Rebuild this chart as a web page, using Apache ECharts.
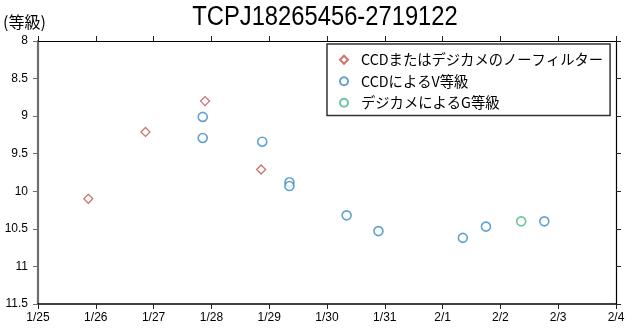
<!DOCTYPE html>
<html>
<head>
<meta charset="utf-8">
<script src="https://cdn.jsdelivr.net/npm/echarts@6/dist/echarts.min.js"></script>
<style>html,body{margin:0;padding:0;background:#fff}#c{width:640px;height:330px}</style>
</head>
<body>
<div id="c"></div>
<script>
// ---- data ----
const titleText = 'TCPJ18265456-2719122';
const yAxisName = '(等級)';
const xTickLabels = ['1/25','1/26','1/27','1/28','1/29','1/30','1/31','2/1','2/2','2/3','2/4'];
const seriesNames = ['CCDまたはデジカメのノーフィルター', 'CCDによるV等級', 'デジカメによるG等級'];
// x values: day number counted from Jan 0 (Feb 1 = 32)
const redX = [25.87, 26.86, 27.89, 28.86];
const redY = [10.10, 9.21, 8.80, 9.71];
const blueX = [27.85, 27.85, 28.88, 29.35, 29.35, 30.34, 30.89, 32.35, 32.75, 33.76];
const blueY = [9.01, 9.29, 9.34, 9.88, 9.93, 10.32, 10.53, 10.62, 10.47, 10.40];
const greenX = [33.36];
const greenY = [10.40];

const zip = (xs, ys) => xs.map((x, i) => [x, ys[i]]);
const chart = echarts.init(document.getElementById('c'), null, {renderer: 'canvas'});
const labelFont = '"Liberation Sans",Arial,sans-serif';
const tick = {show: true, inside: false, length: 5, lineStyle: {color: '#222', width: 1}};
chart.setOption({
  animation: false,
  graphic: [
    {type: 'text', x: 325, y: 18, scaleX: 0.88,
     style: {text: titleText, fontFamily: '"Liberation Sans",Arial,sans-serif', fontSize: 27,
             fill: '#000', textAlign: 'center', textVerticalAlign: 'middle'}},
    {type: 'text', left: 3, top: 14,
     style: {text: yAxisName, fontFamily: '"Noto Sans CJK JP",sans-serif', fontSize: 16, fill: '#000'}}
  ],
  grid: {left: 38, right: 24, top: 41, bottom: 26},
  xAxis: [
    {type: 'value', min: 25, max: 35, interval: 1, position: 'bottom',
     axisLine: {show: true, lineStyle: {color: '#000', width: 1.5}},
     axisTick: tick, splitLine: {show: false},
     axisLabel: {fontFamily: labelFont, fontSize: 12, color: '#000', margin: 8,
       formatter: v => xTickLabels[Math.round(v - 25)]}},
    {type: 'value', min: 25, max: 35, interval: 1, position: 'top',
     axisLine: {show: true, lineStyle: {color: '#000', width: 1.2}},
     axisTick: tick, splitLine: {show: false}, axisLabel: {show: false}}
  ],
  yAxis: [
    {type: 'value', min: 8, max: 11.5, interval: 0.5, inverse: true, position: 'left',
     axisLine: {show: true, lineStyle: {color: '#6e6e6e', width: 2.2}},
     axisTick: {show: true, inside: false, length: 5, lineStyle: {color: '#6e6e6e', width: 1}},
     splitLine: {show: false},
     axisLabel: {fontFamily: labelFont, fontSize: 12, color: '#000', margin: 10}},
    {type: 'value', min: 8, max: 11.5, interval: 0.5, inverse: true, position: 'right',
     axisLine: {show: true, lineStyle: {color: '#000', width: 1.2}},
     axisTick: tick, splitLine: {show: false}, axisLabel: {show: false}}
  ],
  legend: {
    orient: 'vertical', left: 327, top: 44,
    padding: [5, 7, 2, 12], itemGap: 0, itemWidth: 8, itemHeight: 8,
    borderColor: '#333', borderWidth: 1.5, backgroundColor: '#fff',
    textStyle: {fontFamily: '"Noto Sans CJK JP",sans-serif', fontSize: 14.3, color: '#000',
                lineHeight: 21.5, padding: [0, 0, 0, 8]},
    data: seriesNames
  },
  series: [
    {name: seriesNames[0], type: 'scatter', symbol: 'diamond', symbolSize: 9,
     itemStyle: {color: '#fff', borderColor: '#c0504d', borderWidth: 1.3}, data: zip(redX, redY)},
    {name: seriesNames[1], type: 'scatter', symbol: 'circle', symbolSize: 9,
     itemStyle: {color: '#fff', borderColor: '#3b8ac6', borderWidth: 1.6}, data: zip(blueX, blueY)},
    {name: seriesNames[2], type: 'scatter', symbol: 'circle', symbolSize: 9,
     itemStyle: {color: '#fff', borderColor: '#4cb685', borderWidth: 1.6}, data: zip(greenX, greenY)}
  ]
});
</script>
</body>
</html>
